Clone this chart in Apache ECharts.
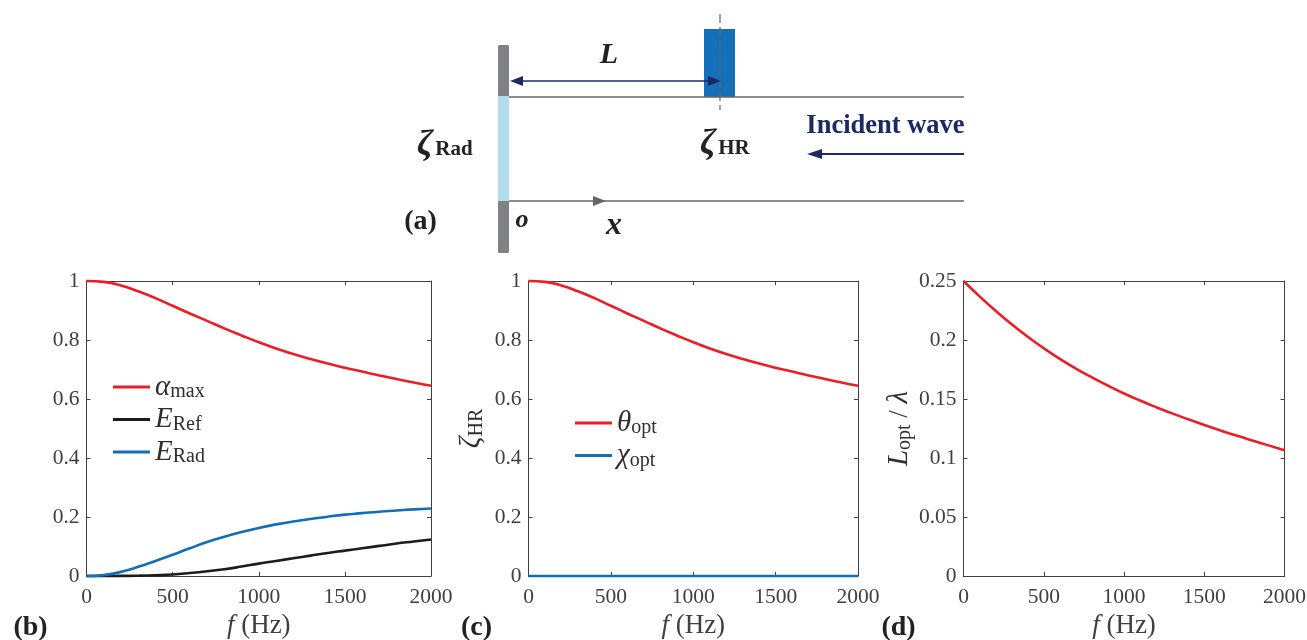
<!DOCTYPE html>
<html><head><meta charset="utf-8">
<style>html,body{margin:0;padding:0;background:#fff}#c{width:1307px;height:640px}</style>
<script src="https://cdn.jsdelivr.net/npm/echarts@6/dist/echarts.min.js"></script>
</head><body><div id="c"></div>
<script>
const freq = [0,100,200,300,400,500,600,700,800,900,1000,1100,1200,1300,1400,1500,1600,1700,1800,1900,2000];
const alphaMax = [1,0.997,0.985,0.965,0.942,0.916,0.89,0.865,0.8395,0.8155,0.7925,0.7715,0.7525,0.7355,0.72,0.706,0.693,0.68,0.668,0.656,0.645];
const eRef = [0,0,0.0003,0.001,0.0025,0.005,0.01,0.016,0.023,0.032,0.042,0.051,0.06,0.069,0.078,0.086,0.094,0.102,0.11,0.117,0.124];
const eRad = [0,0.003,0.014,0.031,0.051,0.072,0.094,0.115,0.133,0.149,0.163,0.175,0.185,0.193,0.201,0.208,0.213,0.218,0.222,0.226,0.229];
const thetaOpt = [1,0.997,0.985,0.965,0.942,0.916,0.89,0.865,0.8395,0.8155,0.7925,0.7715,0.7525,0.7355,0.72,0.706,0.693,0.68,0.668,0.656,0.645];
const chiOpt = [0,0,0,0,0,0,0,0,0,0,0,0,0,0,0,0,0,0,0,0,0];
const lOpt = [0.25,0.237,0.2248,0.2133,0.2027,0.193,0.184,0.1758,0.1683,0.1613,0.1547,0.1487,0.1431,0.1378,0.1328,0.128,0.1234,0.119,0.1148,0.1107,0.1066];

const SERIF = '"Liberation Serif", serif';
const INK = '#404040', RED = '#ee1c25', BLUE = '#0f6fba', BLACK = '#1c1c1c';
const NAVY = '#1b2a63', WALL = '#808185', DUCT = '#666666';
const pair = ys => freq.map((f, i) => [f, ys[i]]);

const rich = {
  i: {fontFamily: SERIF, fontStyle: 'italic', fontSize: 29, color: '#303030', height: 30, lineHeight: 30},
  s: {fontFamily: SERIF, fontSize: 20, color: '#303030', padding: [10, 0, 0, 0], verticalAlign: 'bottom', lineHeight: 24},
  n: {fontFamily: SERIF, fontSize: 27, color: INK},
  f: {fontFamily: SERIF, fontStyle: 'italic', fontSize: 27, color: INK}
};
const legendText = {
  a: '{i|α}{s|max}', b: '{i|E}{s|Ref}', c: '{i|E}{s|Rad}',
  d: '{i|θ}{s|opt}', e: '{i|χ}{s|opt}'
};
const grids = [
  {left: 86.5, top: 281, width: 344.5, height: 295, outerBoundsMode: 'none'},
  {left: 528.5, top: 281, width: 329.5, height: 295, outerBoundsMode: 'none'},
  {left: 963.5, top: 281, width: 321, height: 295, outerBoundsMode: 'none'}
];
const xAxis = [], yAxis = [];
const yCfg = [{max: 1, interval: 0.2, name: ''},
  {max: 1, interval: 0.2, name: '{i|ζ}{s|HR}'},
  {max: 0.25, interval: 0.05, name: '{i|L}{s|opt}{n| / }{i|λ}'}];
grids.forEach((g, k) => {
  const line = {show: true, onZero: false, lineStyle: {color: INK, width: 1}};
  const tick = {show: true, inside: true, length: 4, lineStyle: {color: INK, width: 1}};
  xAxis.push({type: 'value', gridIndex: k, min: 0, max: 2000, interval: 500, position: 'bottom',
    axisLine: line, axisTick: tick, splitLine: {show: false},
    axisLabel: {color: INK, fontFamily: SERIF, fontSize: 21.5, margin: 10, showMinLabel: true, showMaxLabel: true,
      formatter: v => String(v)},
    name: '{f|f}{n| (Hz)}', nameLocation: 'middle', nameGap: 36, nameTextStyle: {rich}});
  xAxis.push({type: 'value', gridIndex: k, min: 0, max: 2000, interval: 500, position: 'top',
    axisLine: line, axisTick: tick, axisLabel: {show: false}, splitLine: {show: false}});
  yAxis.push({type: 'value', gridIndex: k, min: 0, max: yCfg[k].max, interval: yCfg[k].interval, position: 'left',
    axisLine: line, axisTick: tick, splitLine: {show: false},
    axisLabel: {color: INK, fontFamily: SERIF, fontSize: 21.5, margin: 7, showMinLabel: true, showMaxLabel: true,
      formatter: v => String(+v.toFixed(2))},
    name: yCfg[k].name, nameLocation: 'middle', nameRotate: 90, nameGap: k === 1 ? 42 : 49, nameTextStyle: {rich}});
  yAxis.push({type: 'value', gridIndex: k, min: 0, max: yCfg[k].max, interval: yCfg[k].interval, position: 'right',
    axisLine: line, axisTick: tick, axisLabel: {show: false}, splitLine: {show: false}});
});
const mk = (name, ys, color, k) => ({
  name, type: 'line', xAxisIndex: k * 2, yAxisIndex: k * 2, data: pair(ys), smooth: 0.5,
  showSymbol: false, symbol: 'none', clip: false, lineStyle: {color, width: 2.6}, itemStyle: {color}, z: 5
});
const series = [
  mk('a', alphaMax, RED, 0), mk('b', eRef, BLACK, 0), mk('c', eRad, BLUE, 0),
  mk('d', thetaOpt, RED, 1), mk('e', chiOpt, BLUE, 1),
  mk('l', lOpt, RED, 2)
];
const mkLegend = (data, left, top) => ({
  data, orient: 'vertical', left, top, icon: 'rect', itemWidth: 37, itemHeight: 3, itemGap: 2.5,
  padding: 0, selectedMode: false, formatter: n => legendText[n], textStyle: {rich}
});

const T = (text, x, y, size, opt = {}) => ({type: 'text', x, y, silent: true, style: Object.assign({
  text, fontFamily: SERIF, fontSize: size, fill: '#222', align: 'center', verticalAlign: 'middle'}, opt)});
const R = (x, y, width, height, fill, r = 0) => ({type: 'rect', silent: true, shape: {x, y, width, height, r}, style: {fill}});
const Ln = (x1, y1, x2, y2, stroke, lineWidth, extra = {}) => ({type: 'line', silent: true, shape: {x1, y1, x2, y2},
  style: Object.assign({stroke, lineWidth}, extra)});
const Tri = (pts, fill) => ({type: 'polygon', silent: true, shape: {points: pts}, style: {fill}});
const B = {fontWeight: 'bold'}, BI = {fontWeight: 'bold', fontStyle: 'italic'};
const schematic = [
  R(498, 45, 11, 52, WALL, 1.5), R(498, 200, 11, 53, WALL, 1.5), R(498, 96, 11, 105, '#b2dcea'),
  R(704, 29, 31, 68, '#1470b8'),
  Ln(509, 97, 964, 97, DUCT, 1.5), Ln(509, 201, 964, 201, DUCT, 1.5),
  Ln(720, 14, 720, 110, DUCT, 1.2, {lineDash: [9, 4]}),
  Ln(516, 81, 712, 81, NAVY, 1.5),
  Tri([[510, 81], [523, 76], [523, 86]], NAVY), Tri([[721, 81], [708, 76], [708, 86]], NAVY),
  Ln(818, 154, 964, 154, NAVY, 2.2), Tri([[807, 154], [822, 149], [822, 159]], NAVY),
  Tri([[606, 201], [593, 196], [593, 206]], DUCT),
  T('L', 609, 55, 30, BI), T('o', 522, 220, 26, BI), T('x', 614, 226, 32, BI),
  T('Incident wave', 885.5, 126, 26.5, Object.assign({fill: NAVY}, B)),
  T('ζ', 425, 146, 36, BI), T('Rad', 454, 150, 21, B),
  T('ζ', 708, 145, 36, BI), T('HR', 734, 149, 21, B),
  T('(a)', 420.5, 222, 28, B), T('(b)', 30.5, 628, 28, B), T('(c)', 476.5, 628, 28, B), T('(d)', 898.5, 628, 28, B)
];

const chart = echarts.init(document.getElementById('c'), null, {renderer: 'canvas'});
chart.setOption({
  animation: false, backgroundColor: '#fff',
  grid: grids, xAxis, yAxis, series,
  legend: [mkLegend(['a', 'b', 'c'], 113, 372), mkLegend(['d', 'e'], 575, 408)],
  graphic: {elements: schematic}
});
</script></body></html>
